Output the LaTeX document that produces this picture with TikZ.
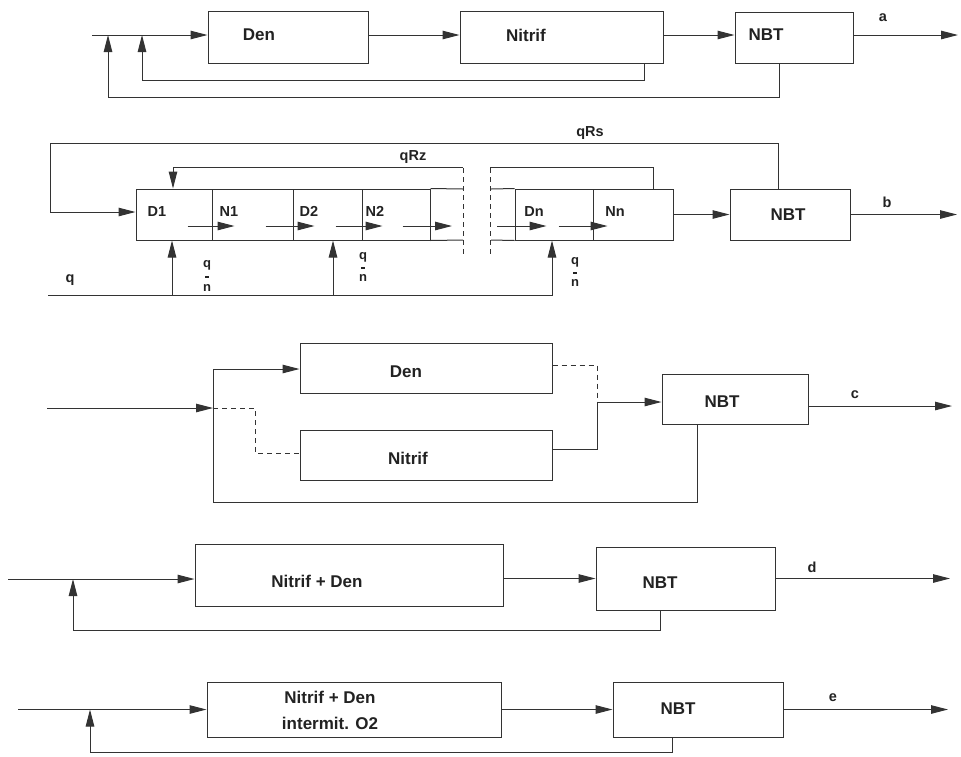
\documentclass[tikz,border=0pt]{standalone}
\usepackage{fontspec}
\setmainfont{Liberation Sans}
\usetikzlibrary{arrows.meta,calc}

\definecolor{ink}{HTML}{333333}
\definecolor{txt}{HTML}{222222}

\begin{document}
\begin{tikzpicture}[x=1pt,y=-1pt,
  line width=1pt, color=ink,
  blk/.style={draw=ink, line width=1pt, rectangle, inner sep=0pt},
  cell/.style={draw=ink, line width=1pt, rectangle, inner sep=0pt, minimum height=51pt},
  lbl/.style={text=txt, font=\bfseries\fontsize{17}{20}\selectfont, inner sep=0pt},
  small/.style={text=txt, font=\bfseries\fontsize{14.5}{16}\selectfont, inner sep=0pt},
  frac/.style={text=txt, font=\bfseries\fontsize{13}{15}\selectfont, inner sep=0pt, align=center},
  arr/.style={-{Triangle[length=17pt,width=8.5pt]}},
  dsh/.style={dash pattern=on 5pt off 4pt, line width=1pt}
]
\fill[white] (0,0) rectangle (961,756);
\useasboundingbox (0,0) rectangle (961,756);

% ---------------- (a) denitrification and nitrification in series
\node[blk, minimum width=160pt, minimum height=52pt] (denA) at (288,37) {};
\node[lbl] (denAt) at (259,35) {Den};
\node[blk, minimum width=203pt, minimum height=52pt] (nitA) at (561.5,37) {};
\node[lbl] (nitAt) at (526,35) {Nitrif};
\node[blk, minimum width=118pt, minimum height=51pt] (nbtA) at (794,37.5) {};
\node[lbl] (nbtAt) at (766,35) {NBT};
\node[small] (labA) at (883,18) {a};
\coordinate (inA) at (92,35);
\coordinate (jA1) at (142,35);
\coordinate (jA2) at (108,35);
\coordinate (outA) at (958,35);
\draw[arr] (inA) -- (inA -| denA.west);
\draw[arr] (denA.east |- inA) -- (nitA.west |- inA);
\draw[arr] (nitA.east |- inA) -- (nbtA.west |- inA);
\draw[arr] (nbtA.east |- inA) -- (outA);
\draw[arr] ([xshift=82.5pt]nitA.south) -- ++(0,17) -| (jA1);
\draw[arr] ([xshift=-15pt]nbtA.south) -- ++(0,34) -| (jA2);

% ---------------- (b) cascade of D/N compartments with step feed
\node[cell, minimum width=76pt] (d1) at (174,214.5) {};
\node[cell, minimum width=81pt] (n1) at (252.5,214.5) {};
\node[cell, minimum width=69pt] (d2) at (327.5,214.5) {};
\node[cell, minimum width=68pt] (n2) at (396,214.5) {};
\node[cell, minimum width=78pt] (dn) at (554,214.5) {};
\node[cell, minimum width=80pt] (nn) at (633,214.5) {};
\node[blk, minimum width=120pt, minimum height=51pt] (nbtB) at (790,214.5) {};
\node[lbl] (nbtBt) at (788,215) {NBT};
\coordinate (cutLt) at (463,189);
\coordinate (cutLb) at (463,240);
\coordinate (cutRt) at (491,189);
\coordinate (cutRb) at (491,240);
\draw (n2.north east) -- (cutLt);
\draw (n2.south east) -- (cutLb);
\draw (cutRt) -- (dn.north west);
\draw (cutRb) -- (dn.south west);
\draw[dsh] (463,168) -- (463,257);
\draw[dsh] (490,168) -- (490,257);

\node[small] (d1t) at (157,212) {D1};
\node[small] (n1t) at (229,212) {N1};
\node[small] (d2t) at (309,211) {D2};
\node[small] (n2t) at (375,211) {N2};
\node[small] (dnt) at (534,212) {Dn};
\node[small] (nnt) at (615,212) {Nn};

% flow between compartments
\coordinate (gapL) at (452,226);
\coordinate (gapR) at (497,226);
\draw[arr] ([xshift=-25pt,yshift=-11.5pt]d1.east) -- ([xshift=23pt,yshift=-11.5pt]n1.west);
\draw[arr] ([xshift=-28pt,yshift=-11.5pt]n1.east) -- ([xshift=22pt,yshift=-11.5pt]d2.west);
\draw[arr] ([xshift=-27pt,yshift=-11.5pt]d2.east) -- ([xshift=21pt,yshift=-11.5pt]n2.west);
\draw[arr] ([xshift=-28pt,yshift=-11.5pt]n2.east) -- (gapL);
\draw[arr] (gapR) -- ([xshift=32pt,yshift=-11.5pt]dn.west);
\draw[arr] ([xshift=-35pt,yshift=-11.5pt]dn.east) -- ([xshift=15pt,yshift=-11.5pt]nn.west);

% internal recycle qRz
\coordinate (qrzR) at (490,167);
\coordinate (qrzL) at (463,167);
\draw ([xshift=20pt]nn.north) |- (qrzR);
\draw[arr] (qrzL) -| ([xshift=-1pt]d1.north);
\node[small] (qrzt) at (413,157) {qRz};

% sludge recycle qRs
\coordinate (qrsC) at (50,143);
\draw[arr] ([xshift=-12pt]nbtB.north) |- (qrsC) |- ([yshift=2.5pt]d1.west);
\node[small] (qrst) at (590,133) {qRs};

\coordinate (outB) at (957,214.5);
\draw[arr] (nn.east) -- (nbtB.west);
\draw[arr] (nbtB.east) -- (outB);
\node[small] (labB) at (887,202) {b};

% step feed q/n
\coordinate (qin) at (48,295);
\draw[arr] (qin) -| ([xshift=-2pt]dn.south);
\draw[arr] ([xshift=-2pt]d1.south |- qin) -- ([xshift=-2pt]d1.south);
\draw[arr] ([xshift=5.5pt]d2.south |- qin) -- ([xshift=5.5pt]d2.south);
\node[small] (qt) at (70,280) {q};
\node[frac] (f1) at (207,276) {q\\[-3pt]\rule[2pt]{4pt}{1.3pt}\\[-3pt]n};
\node[frac] (f2) at (363,267) {q\\[-4pt]\rule[2pt]{4pt}{1.3pt}\\[-4pt]n};
\node[frac] (f3) at (575,272) {q\\[-4pt]\rule[2pt]{4pt}{1.3pt}\\[-4pt]n};

% ---------------- (c) parallel Den and Nitrif
\node[blk, minimum width=252pt, minimum height=50pt] (denC) at (426,368) {};
\node[lbl] (denCt) at (406,372) {Den};
\node[blk, minimum width=252pt, minimum height=50pt] (nitC) at (426,455) {};
\node[lbl] (nitCt) at (408,458) {Nitrif};
\node[blk, minimum width=146pt, minimum height=50pt] (nbtC) at (735,399) {};
\node[lbl] (nbtCt) at (722,402) {NBT};
\node[small] (labC) at (855,395) {c};
\coordinate (inC) at (47,408);
\coordinate (splitC) at (213,408);
\coordinate (topC) at (213,369);
\coordinate (botC) at (213,502);
\coordinate (mergeC) at (597,402);
\coordinate (outC) at (952,406);
\draw[arr] (inC) -- (splitC);
\draw[arr] ([xshift=-38pt]nbtC.south) |- (botC) -- (topC) -- (topC -| denC.west);
\draw[dsh] (splitC) -- ++(42,0) |- ([yshift=2pt]nitC.west);
\draw[dsh] ([yshift=3pt]denC.east) -| (mergeC);
\draw ([yshift=6pt]nitC.east) -| (mergeC);
\draw[arr] (mergeC) -- (mergeC -| nbtC.west);
\draw[arr] ([yshift=-7pt]nbtC.east) -- (outC);

% ---------------- (d) combined Nitrif + Den
\node[blk, minimum width=308pt, minimum height=62pt] (boxD) at (349,575) {};
\node[lbl] (boxDt) at (317,581) {Nitrif + Den};
\node[blk, minimum width=179pt, minimum height=63pt] (nbtD) at (685.5,578.5) {};
\node[lbl] (nbtDt) at (660,583) {NBT};
\node[small] (labD) at (812,567) {d};
\coordinate (inD) at (8,579);
\coordinate (jD) at (73,579);
\coordinate (outD) at (950,578.5);
\draw[arr] (inD) -- (inD -| boxD.west);
\draw[arr] (boxD.east |- nbtD) -- (nbtD.west);
\draw[arr] (nbtD.east) -- (outD);
\draw[arr] ([xshift=-25.5pt]nbtD.south) -- ++(0,20) -| (jD);

% ---------------- (e) intermittent aeration
\node[blk, minimum width=294pt, minimum height=55pt] (boxE) at (354,709.5) {};
\node[text=txt, font=\bfseries\fontsize{17}{26}\selectfont, inner sep=0pt, align=center] (boxEt) at (330,710) {Nitrif + Den\\intermit. O2};
\node[blk, minimum width=170pt, minimum height=55pt] (nbtE) at (698,709.5) {};
\node[lbl] (nbtEt) at (678,709) {NBT};
\node[small] (labE) at (833,698) {e};
\coordinate (inE) at (18,709.5);
\coordinate (jE) at (90,709.5);
\coordinate (outE) at (948,709.5);
\draw[arr] (inE) -- (boxE.west);
\draw[arr] (boxE.east) -- (nbtE.west);
\draw[arr] (nbtE.east) -- (outE);
\draw[arr] ([xshift=-26pt]nbtE.south) -- ++(0,15) -| (jE);
\end{tikzpicture}
\end{document}
